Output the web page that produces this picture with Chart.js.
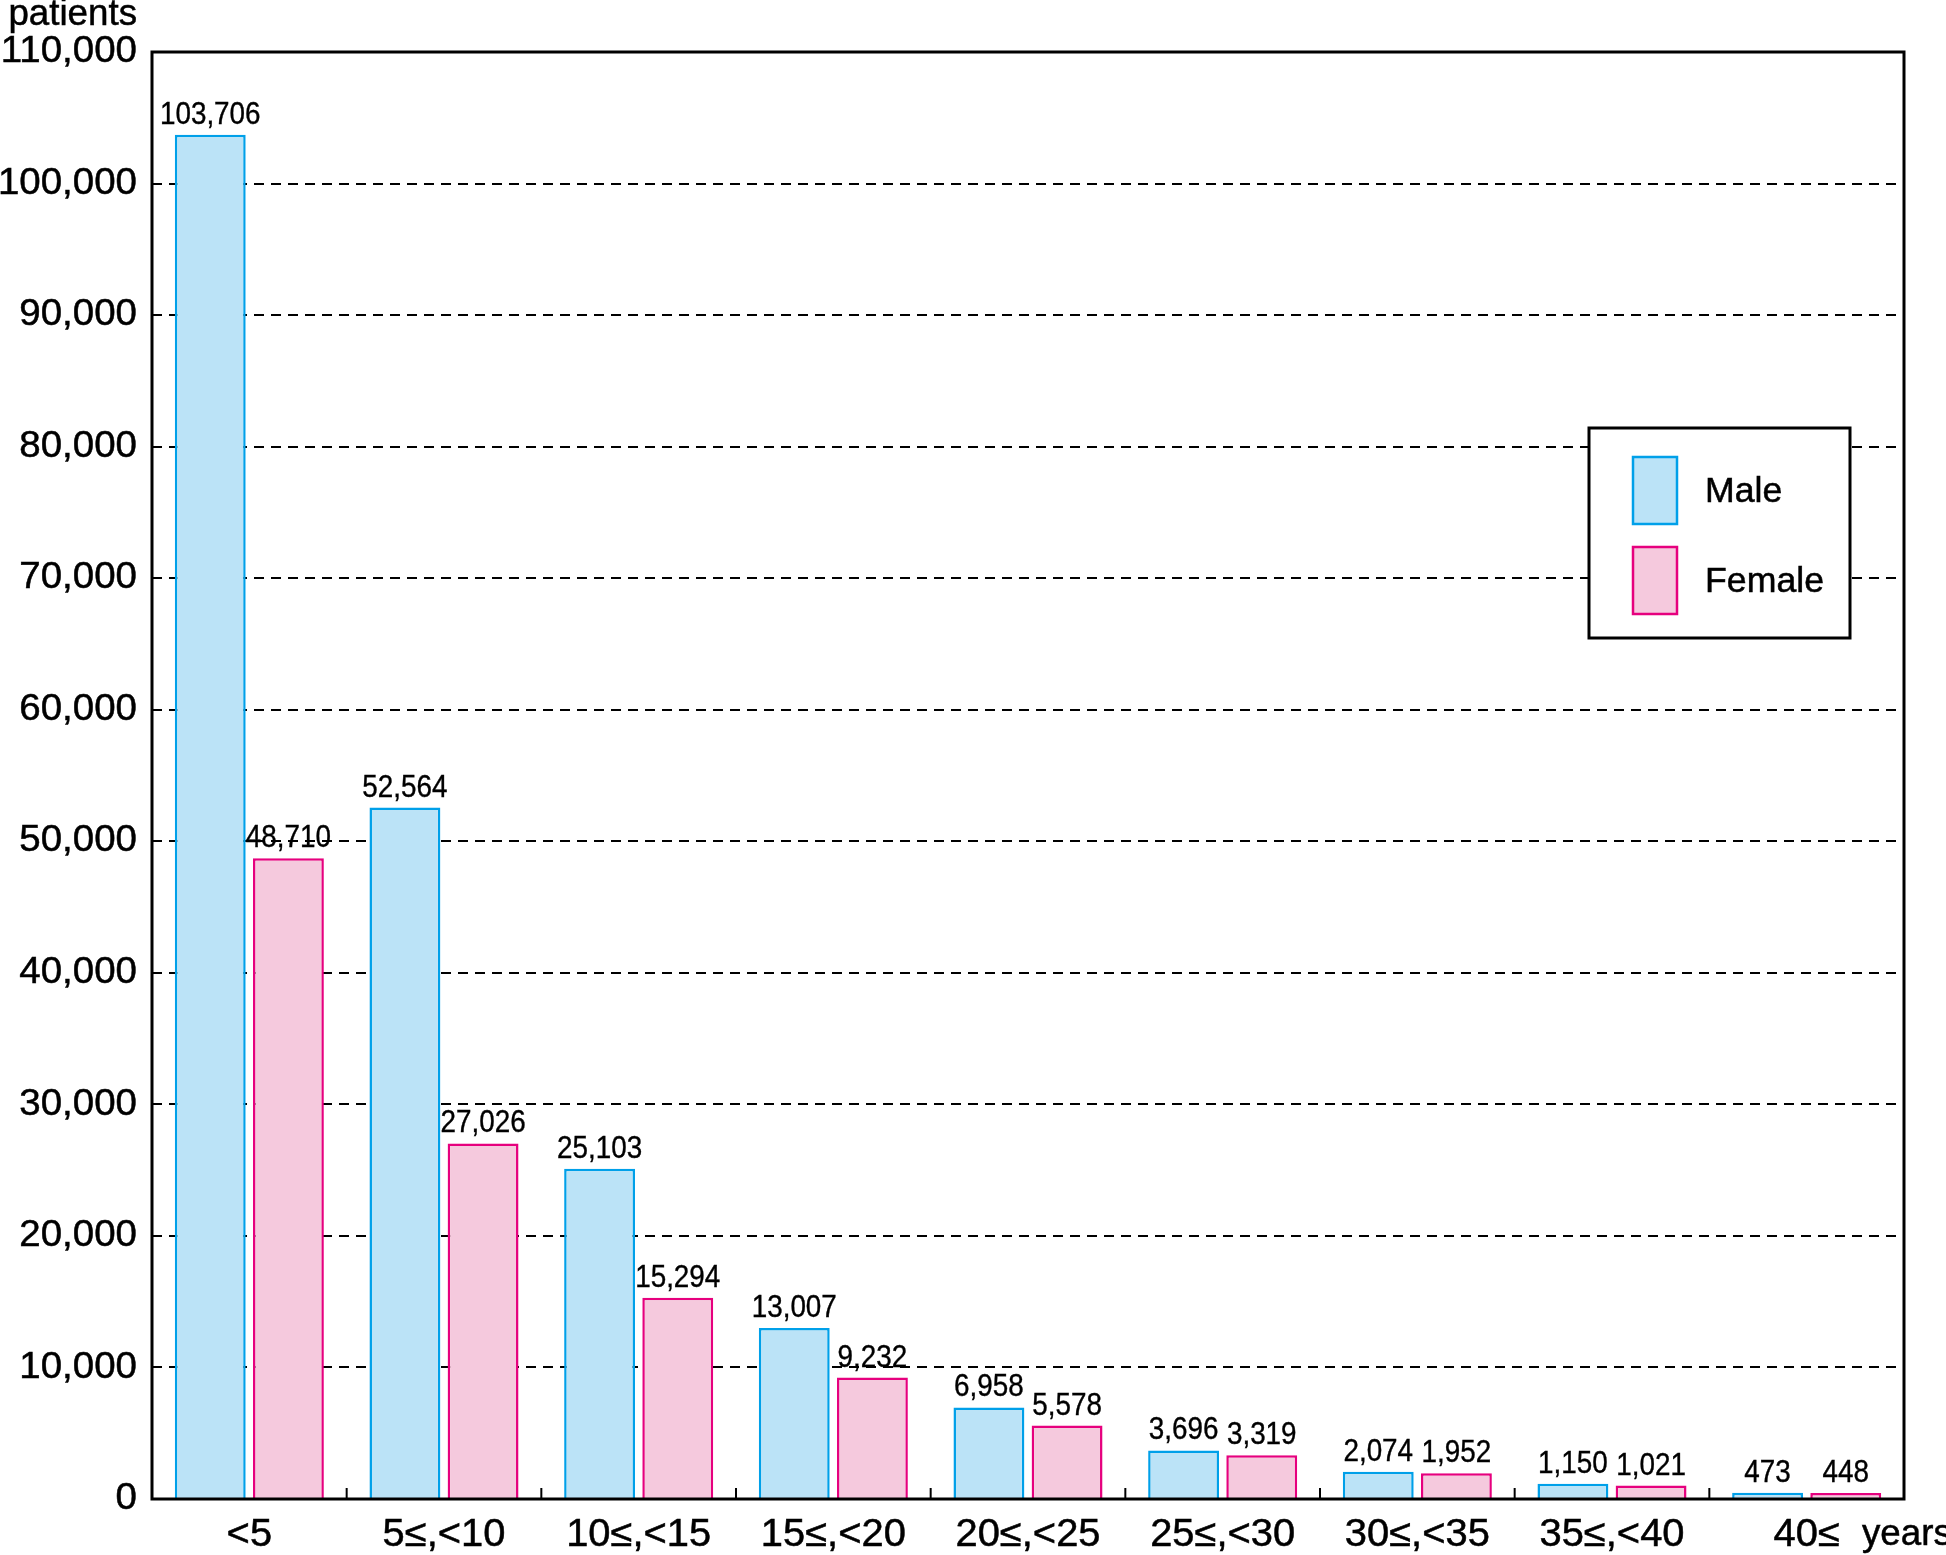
<!DOCTYPE html>
<html>
<head>
<meta charset="utf-8">
<script src="https://cdn.jsdelivr.net/npm/chart.js@4.4.1/dist/chart.umd.min.js"></script>
<style>
  html, body { margin: 0; padding: 0; background: #fff; }
  canvas { display: block; }
</style>
</head>
<body>
<canvas id="myChart" width="1946" height="1555"></canvas>
<script>
const ageGroups = ["<5", "5≤,<10", "10≤,<15", "15≤,<20", "20≤,<25", "25≤,<30", "30≤,<35", "35≤,<40", "40≤"];
const maleCounts = [103706, 52564, 25103, 13007, 6958, 3696, 2074, 1150, 473];
const femaleCounts = [48710, 27026, 15294, 9232, 5578, 3319, 1952, 1021, 448];
const yMax = 110000;
const yStep = 10000;

const maleFill = "rgb(187, 227, 247)";
const maleLine = "rgb(0, 160, 233)";
const femaleFill = "rgb(245, 201, 221)";
const femaleLine = "rgb(230, 0, 126)";
const textFont = "'Liberation Sans', Arial, sans-serif";

// text a touch wider and heavier than plain Liberation Sans, like the original
function drawText(ctx, text, x, y, align, size, sx) {
  ctx.save();
  ctx.font = size + "px " + textFont;
  ctx.fillStyle = "#000";
  ctx.strokeStyle = "#000";
  ctx.lineWidth = 0.5;
  ctx.textAlign = align;
  ctx.textBaseline = "middle";
  ctx.translate(x, y);
  ctx.scale(sx, 1);
  ctx.fillText(text, 0, 0);
  ctx.strokeText(text, 0, 0);
  ctx.restore();
}

// value labels above each bar (the original uses a condensed face)
const barLabels = {
  id: "barLabels",
  afterDatasetsDraw(chart) {
    const ctx = chart.ctx;
    chart.data.datasets.forEach((ds, di) => {
      chart.getDatasetMeta(di).data.forEach((bar, i) => {
        ctx.save();
        ctx.font = "32px " + textFont;
        ctx.fillStyle = "#000";
        ctx.strokeStyle = "#000";
        ctx.lineWidth = 0.4;
        ctx.textAlign = "center";
        ctx.textBaseline = "alphabetic";
        ctx.translate(bar.x, bar.y - 11);
        ctx.scale(0.87, 1);
        const txt = ds.data[i].toLocaleString("en-US");
        ctx.fillText(txt, 0, 0);
        ctx.strokeText(txt, 0, 0);
        ctx.restore();
      });
    });
  },
};

// frame, tick labels, inner x ticks, axis titles, legend box
const frame = {
  id: "frame",
  afterDraw(chart) {
    const ctx = chart.ctx;
    const a = chart.chartArea;
    const x = chart.scales.x;
    const y = chart.scales.y;

    ctx.save();
    ctx.strokeStyle = "#000";
    ctx.lineWidth = 3;
    ctx.strokeRect(a.left, a.top, a.right - a.left, a.bottom - a.top);

    // small ticks between the groups
    ctx.lineWidth = 2;
    for (let i = 0; i < ageGroups.length - 1; i++) {
      const px = (x.getPixelForValue(i) + x.getPixelForValue(i + 1)) / 2;
      ctx.beginPath();
      ctx.moveTo(px, a.bottom);
      ctx.lineTo(px, a.bottom - 11);
      ctx.stroke();
    }
    ctx.restore();

    // y tick labels
    y.ticks.forEach((t) => {
      drawText(ctx, t.value.toLocaleString("en-US"), a.left - 15, y.getPixelForValue(t.value), "right", 37, 1.04);
    });
    // x tick labels
    ageGroups.forEach((lab, i) => {
      drawText(ctx, lab, x.getPixelForValue(i), a.bottom + 37, "center", 38, 1.05);
    });

    drawText(ctx, "patients", 137, 15, "right", 36, 1.02);
    drawText(ctx, "years", 1862, 1535, "left", 36, 1.02);

    // legend
    ctx.save();
    ctx.fillStyle = "#fff";
    ctx.fillRect(1589, 428, 261, 210);
    ctx.strokeStyle = "#000";
    ctx.lineWidth = 3;
    ctx.strokeRect(1589, 428, 261, 210);

    const items = [
      { label: "Male", fill: maleFill, line: maleLine, y: 457 },
      { label: "Female", fill: femaleFill, line: femaleLine, y: 547 },
    ];
    items.forEach((it) => {
      ctx.fillStyle = it.fill;
      ctx.fillRect(1633, it.y, 44, 67);
      ctx.strokeStyle = it.line;
      ctx.lineWidth = 2.5;
      ctx.strokeRect(1633, it.y, 44, 67);
      drawText(ctx, it.label, 1705, it.y + 35, "left", 35, 1.02);
    });
    ctx.restore();
  },
};

const data = {
  labels: ageGroups,
  datasets: [
    {
      label: "Male",
      data: maleCounts,
      backgroundColor: maleFill,
      borderColor: maleLine,
      borderWidth: 2.5,
      borderSkipped: "bottom",
    },
    {
      label: "Female",
      data: femaleCounts,
      backgroundColor: femaleFill,
      borderColor: femaleLine,
      borderWidth: 2.5,
      borderSkipped: "bottom",
    },
  ],
};

const config = {
  type: "bar",
  data: data,
  options: {
    responsive: false,
    animation: false,
    layout: { padding: { left: 0, top: 52, right: 42, bottom: 0 } },
    datasets: {
      bar: { categoryPercentage: 0.803, barPercentage: 0.907 },
    },
    plugins: {
      legend: { display: false },
      tooltip: { enabled: false },
    },
    scales: {
      x: {
        grid: { display: false, drawTicks: false },
        border: { display: false },
        ticks: { display: false, autoSkip: false },
        afterFit(scale) {
          scale.height = 56;
        },
      },
      y: {
        min: 0,
        max: yMax,
        grid: {
          drawTicks: false,
          lineWidth: 2,
          color: (c) => (c.tick && (c.tick.value === 0 || c.tick.value === yMax) ? "rgba(0,0,0,0)" : "#000"),
        },
        border: { display: false, dash: [10, 7] },
        ticks: { display: false, stepSize: yStep },
        afterFit(scale) {
          scale.width = 152;
        },
      },
    },
  },
  plugins: [barLabels, frame],
};

const myChart = new Chart(document.getElementById("myChart"), config);
</script>
</body>
</html>
